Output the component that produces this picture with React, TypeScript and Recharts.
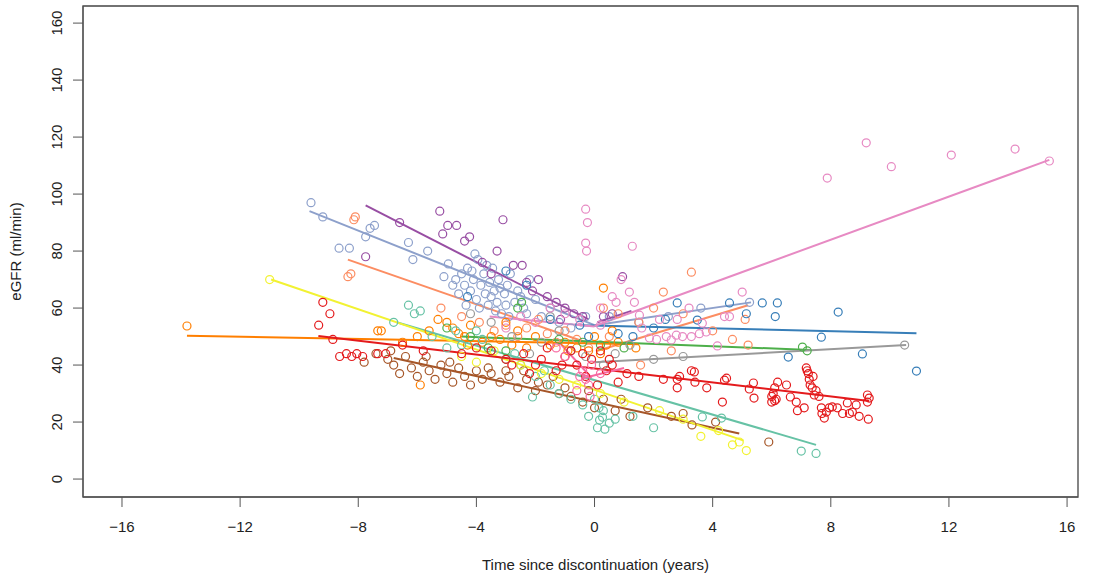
import React from 'react';
import { ScatterChart, Scatter, XAxis, YAxis, ReferenceLine, ReferenceArea } from 'recharts';

type Pt = [number, number];

const xTicks = [-16, -12, -8, -4, 0, 4, 8, 12, 16];
const yTicks = [0, 20, 40, 60, 80, 100, 120, 140, 160];
const xDomain: Pt = [-17.32, 16.37];
const yDomain: Pt = [-6.3, 166];

const purplePts: Pt[] = [
  [-7.75, 78], [-6.6, 90], [-5.24, 94], [-4.97, 89], [-4.67, 89], [-5.14, 86], [-4.4, 83.5], [-4.23, 85],
  [-3.1, 91], [-3.3, 80], [-2.75, 75], [-2.45, 75], [-2.3, 69], [-1.9, 70], [-1.6, 64], [-2.1, 66],
  [-1.3, 62], [-1.0, 60], [-0.7, 58], [-0.4, 57], [-3.8, 76], [-3.5, 72], [0.3, 57], [0.95, 71], [0.6, 58], [-1.15, 56],
];
const lavenderPts: Pt[] = [
  [-9.6, 97], [-9.2, 92], [-8.65, 81], [-8.3, 81], [-7.75, 85], [-7.6, 88], [-7.45, 89], [-6.3, 83], [-6.15, 77],
  [-5.65, 80], [-4.95, 75.5], [-4.7, 70], [-4.5, 72], [-4.4, 68], [-4.3, 74], [-4.2, 66], [-4.1, 70], [-4.0, 63],
  [-3.95, 77], [-3.85, 68], [-3.75, 72], [-3.7, 65], [-3.6, 61], [-3.55, 69], [-3.45, 74], [-3.4, 66], [-3.3, 62],
  [-3.25, 70], [-3.15, 58], [-3.05, 65], [-2.95, 68], [-2.85, 72], [-2.7, 62], [-2.6, 66], [-2.4, 60], [-2.2, 70],
  [-2.0, 63], [-1.8, 57], [-1.5, 60], [-1.2, 55], [-0.8, 53], [-0.3, 57], [0.5, 57], [1.5, 55], [2.5, 57], [3.6, 60], [5.25, 62],
  [-4.6, 65], [-4.35, 61], [-4.15, 73], [-3.9, 60], [-3.65, 75], [-3.5, 64], [-3.35, 59], [-3.2, 67], [-3.0, 61],
  [-2.9, 57], [-2.5, 64], [-2.3, 58], [-4.8, 68], [-5.1, 71], [-4.05, 79],
];
const salmonPts: Pt[] = [
  [-8.35, 71], [-8.25, 72], [-8.15, 91], [-8.1, 92], [-5.2, 60], [-4.5, 57], [-3.9, 55], [-3.4, 52], [-3.0, 54],
  [-2.6, 50], [-2.3, 53], [-1.9, 56], [-1.6, 51], [-1.3, 48], [-1.0, 52], [-0.6, 49], [-0.2, 46], [0.3, 60],
  [0.8, 58], [1.5, 55], [2.0, 60], [2.33, 65.6], [3.28, 72.6], [3.0, 58], [4.0, 52], [4.67, 49], [5.1, 56],
  [5.2, 47], [1.56, 40], [2.6, 45], [0.5, 50],
];
const yellowPts: Pt[] = [
  [-11, 70], [-4.5, 43], [-4.0, 41], [-3.4, 45], [-2.5, 40], [-1.8, 37], [-1.2, 35], [-0.6, 33], [0.2, 30],
  [1.0, 27], [2.2, 24], [3.0, 21], [3.6, 15], [4.2, 17], [4.67, 12], [5.14, 10], [4.9, 13],
];
const orangePts: Pt[] = [
  [-13.8, 53.7], [-7.34, 52], [-7.22, 52], [-5.3, 56], [-5.0, 55], [-4.8, 53], [-4.6, 51], [-4.4, 50], [-4.2, 54],
  [-4.3, 47], [-3.8, 48], [-3.2, 49], [-2.6, 52], [-2.0, 50], [-1.5, 47], [-1.0, 48], [-0.6, 46], [-0.2, 45],
  [0.4, 47], [0.8, 48], [1.4, 46], [0.3, 67], [-5.9, 33], [-3.0, 55], [-2.3, 46], [0.2, 44],
  [-6.5, 48], [-6.0, 50], [-5.6, 52], [-3.5, 50], [-2.8, 47], [-0.9, 45], [0, 50], [0.6, 52],
];
const redPts: Pt[] = [
  [-9.2, 62], [-8.96, 58], [-9.34, 54], [-8.86, 49], [-8.63, 43], [-8.4, 44], [-8.22, 43], [-8.05, 44], [-7.85, 43],
  [-7.34, 44], [-7.07, 44], [-6.5, 47], [-5.8, 45], [-3.5, 45], [-3.0, 42], [-2.8, 40], [-2.4, 44], [-2.0, 40],
  [-1.6, 46], [-1.3, 38], [-1.0, 43], [-0.6, 40], [-0.3, 36], [0.1, 33], [0.4, 38], [0.8, 34], [1.1, 37],
  [-0.1, 42], [0.5, 42], [1.5, 36], [2.33, 35], [2.8, 35], [2.88, 36], [2.8, 32], [3.28, 38], [3.38, 37.6],
  [3.4, 34], [3.8, 32], [4.33, 27], [4.4, 34.7], [4.47, 35.4], [5.24, 31.6], [5.38, 33.7], [5.4, 28.4],
  [6.0, 27], [6.05, 30], [6.1, 32], [6.15, 28], [6.2, 34], [6.0, 29], [6.1, 27.5], [6.5, 33], [6.63, 28.8],
  [6.83, 27], [6.87, 24], [7.1, 25], [7.17, 39], [7.2, 38], [7.24, 37], [7.27, 35], [7.37, 32], [7.44, 29.5],
  [7.5, 31], [7.6, 29], [7.68, 25], [7.7, 23], [7.78, 21.4], [7.85, 23.5], [7.95, 25], [8.05, 25.3], [8.22, 25],
  [8.4, 23], [8.63, 23], [8.73, 23.5], [8.96, 22], [8.86, 26], [8.56, 26.7], [9.24, 29.5], [9.3, 28.4],
  [9.24, 27], [9.27, 21], [7.3, 33], [7.4, 36],
  [-4.5, 44], [-4.0, 46], [-2.2, 37], [-1.8, 42], [-1.1, 40], [-0.8, 45], [0.2, 45], [0.6, 40], [-0.4, 44],
];
const brownPts: Pt[] = [
  [-7.8, 41], [-7.4, 44], [-7.0, 42], [-6.8, 40], [-6.6, 37], [-6.4, 43], [-6.2, 39], [-6.0, 36], [-5.8, 41],
  [-5.6, 38], [-5.4, 35], [-5.2, 40], [-5.0, 37], [-4.8, 34], [-4.6, 39], [-4.4, 36], [-4.2, 33], [-4.0, 38],
  [-3.8, 35], [-3.5, 37], [-3.2, 34], [-2.9, 36], [-2.6, 32], [-2.3, 35], [-2.0, 31], [-1.6, 33], [-1.2, 30],
  [-0.8, 29], [-0.4, 27], [0, 25], [0.3, 28], [0.7, 24], [1.2, 22], [1.8, 25], [2.6, 22], [3.0, 23], [3.3, 19],
  [4.1, 20], [5.9, 13],
  [-6.9, 45], [-5.7, 43], [-4.9, 41], [-3.6, 39], [-3.0, 38], [-2.4, 38], [-1.9, 34], [-1.4, 36], [-1.0, 32],
  [-0.2, 31], [0.9, 28],
];
const tealPts: Pt[] = [
  [-6.3, 61], [-6.1, 58], [-5.9, 59], [-6.8, 55], [-5.5, 50], [-4.5, 47], [-4.0, 52], [-3.5, 45], [-3.0, 42],
  [-2.5, 40], [-2.0, 36], [-1.5, 33], [-1.2, 30], [-0.8, 28], [-0.4, 26], [0.1, 18], [0.17, 20.7], [0.27, 21.7],
  [0.5, 19.6], [0.3, 24], [0.0, 28], [1.3, 22], [2.0, 18], [3.65, 21.8], [4.3, 21.4], [7.0, 9.8], [7.5, 9], [-2.1, 28.8],
  [-5.0, 46], [-4.7, 52], [-3.8, 49], [-2.7, 44], [-1.7, 38], [0.15, 25], [0.35, 17.5], [0.7, 21], [-0.2, 22],
];
const greenPts: Pt[] = [
  [-2.6, 60], [-2.47, 62], [-3.6, 46], [-3.0, 45], [-1.2, 49], [-0.4, 48], [0.2, 47], [1.0, 46], [7.04, 46.3],
  [7.2, 45], [-5.0, 53], [-4.2, 50],
];
const greyPts: Pt[] = [
  [-3.5, 55], [-2.8, 50], [-2.2, 44], [-1.8, 48], [-1.2, 52], [-0.8, 45], [-0.3, 43], [0.3, 40], [0.7, 44],
  [1.2, 47], [2.0, 42], [3.0, 43], [10.5, 47], [-4.2, 58], [-1.5, 57],
];
const bluePts: Pt[] = [
  [-2.3, 68], [-1.5, 56], [-0.5, 54], [0.8, 51], [1.3, 50], [2.0, 53], [2.8, 61.8], [3.48, 55.8], [4.57, 61.8],
  [5.14, 58], [5.68, 61.8], [6.19, 61.8], [6.12, 57], [6.56, 42.8], [7.68, 49.8], [8.25, 58.6], [9.07, 43.9],
  [10.9, 37.9], [-3.0, 73], [-4.3, 64], [-0.2, 50], [2.4, 56],
];
const pinkPts: Pt[] = [
  [-0.3, 94.7], [-0.24, 90], [-0.3, 82.8], [-0.27, 80], [1.28, 81.7], [1.18, 65.6], [0.6, 64], [0.73, 62],
  [1.35, 62], [1.52, 57.5], [1.86, 49.5], [2.1, 49], [2.43, 50], [2.6, 48.8], [2.77, 50.5], [2.98, 50],
  [3.28, 50], [3.55, 51], [3.78, 51.6], [4.4, 57], [4.57, 57], [5.0, 65.6], [4.16, 46.7], [3.65, 54.7],
  [0.2, 54], [-0.5, 56], [-1.0, 58], [-1.5, 60], [-2.0, 55], [-2.5, 57], [-3.0, 53], [7.88, 105.6], [9.2, 118],
  [10.05, 109.6], [12.08, 113.7], [14.24, 115.8], [15.4, 111.6], [0.9, 70], [0.2, 60], [1.6, 53], [2.2, 56],
  [3.2, 60], [2.8, 56],
];
const hotPinkPts: Pt[] = [
  [-0.4, 38], [-0.3, 35], [-0.2, 33], [-0.5, 36], [-0.1, 40], [-1.0, 43], [-1.3, 46], [0.2, 37], [-0.6, 31], [-0.15, 29],
];

// fitted segments per group
const purpleFit: Pt[][] = [[[-7.75, 96], [-0.2, 56]], [[0.1, 55], [1.25, 59]]];
const lavenderFit: Pt[][] = [[[-9.65, 94], [0, 54]], [[0, 54], [5.3, 62]]];
const salmonFit: Pt[][] = [[[-8.35, 77], [-0.3, 48]], [[0.1, 45], [5.2, 61]]];
const yellowFit: Pt[][] = [[[-10.95, 70], [5.05, 13.5]]];
const orangeFit: Pt[][] = [[[-13.8, 50.3], [1.5, 47.3]]];
const redFit: Pt[][] = [[[-9.35, 50.2], [9.3, 27.4]]];
const brownFit: Pt[][] = [[[-6.8, 42.5], [4.9, 16]]];
const tealFit: Pt[][] = [[[-6.7, 55], [7.5, 12]]];
const greenFit: Pt[][] = [[[-4.5, 50], [7.3, 45.3]]];
const greyFit: Pt[][] = [[[0, 41], [10.55, 47]]];
const blueFit: Pt[][] = [[[-0.5, 54], [10.9, 51.2]]];
const pinkFit: Pt[][] = [[[-3.55, 57], [0, 53.5]], [[0, 53.7], [15.4, 112]]];
const hotPinkFit: Pt[][] = [[[-1.2, 48], [-0.1, 35.5]], [[-0.4, 35.4], [1.0, 39]]];

const groups = [
  { pts: lavenderPts, fit: lavenderFit, color: '#8DA0CB' },
  { pts: purplePts, fit: purpleFit, color: '#984EA3' },
  { pts: salmonPts, fit: salmonFit, color: '#FC8D62' },
  { pts: orangePts, fit: orangeFit, color: '#FF7F00' },
  { pts: brownPts, fit: brownFit, color: '#A65628' },
  { pts: tealPts, fit: tealFit, color: '#66C2A5' },
  { pts: greenPts, fit: greenFit, color: '#4DAF4A' },
  { pts: greyPts, fit: greyFit, color: '#999999' },
  { pts: bluePts, fit: blueFit, color: '#377EB8' },
  { pts: pinkPts, fit: pinkFit, color: '#E78AC3' },
  { pts: yellowPts, fit: yellowFit, color: '#F2F232' },
  { pts: redPts, fit: redFit, color: '#E41A1C' },
  { pts: hotPinkPts, fit: hotPinkFit, color: '#F768A1' },
];

const font = '"Liberation Sans", Arial, sans-serif';
const fmt = (v: number) => String(v).replace('-', '\u2212');

const YTick = (p: any) => (
  <text x={p.x} y={p.y} transform={`rotate(-90, ${p.x}, ${p.y})`} textAnchor="middle"
    fontSize={15} fill="#222" fontFamily={font}>{p.payload.value}</text>
);

export default function App() {
  return (
    <div style={{ position: 'absolute', left: 0, top: 0, width: 1100, height: 574, background: '#fff' }}>
      <ScatterChart width={1100} height={574} margin={{ top: 6, right: 22, bottom: 0, left: 0 }}>
        <XAxis type="number" dataKey="x" domain={xDomain} ticks={xTicks} allowDataOverflow
          height={77} tickSize={10} tickMargin={14} tickFormatter={fmt}
          stroke="#555" tick={{ fontSize: 15, fill: '#222', fontFamily: font }}
          label={{ value: 'Time since discontinuation (years)', position: 'insideBottom', offset: 4, dx: 15,
            style: { fontSize: 15, fill: '#222', fontFamily: font } }} />
        <YAxis type="number" dataKey="y" domain={yDomain} ticks={yTicks} allowDataOverflow
          width={83} tickSize={10} tickMargin={11} stroke="#555" tick={<YTick />}
          label={{ value: 'eGFR (ml/min)', angle: -90, position: 'center', dx: -26,
            style: { fontSize: 15, fill: '#222', fontFamily: font } }} />
        <ReferenceArea x1={xDomain[0]} x2={xDomain[1]} y1={yDomain[0]} y2={yDomain[1]}
          fill="none" stroke="#444" strokeWidth={1.3} ifOverflow="visible" />
        {groups.map((g, i) => (
          <Scatter key={'s' + i} data={g.pts.map(([x, y]) => ({ x, y }))} isAnimationActive={false}
            shape={(p: any) => (
              <circle cx={p.cx} cy={p.cy} r={4} fill="none" stroke={g.color} strokeWidth={1.2} />
            )} />
        ))}
        {groups.flatMap((g, i) =>
          g.fit.map((seg, j) => (
            <ReferenceLine key={'l' + i + '-' + j}
              segment={[{ x: seg[0][0], y: seg[0][1] }, { x: seg[1][0], y: seg[1][1] }]}
              stroke={g.color} strokeWidth={2} />
          ))
        )}
      </ScatterChart>
    </div>
  );
}
